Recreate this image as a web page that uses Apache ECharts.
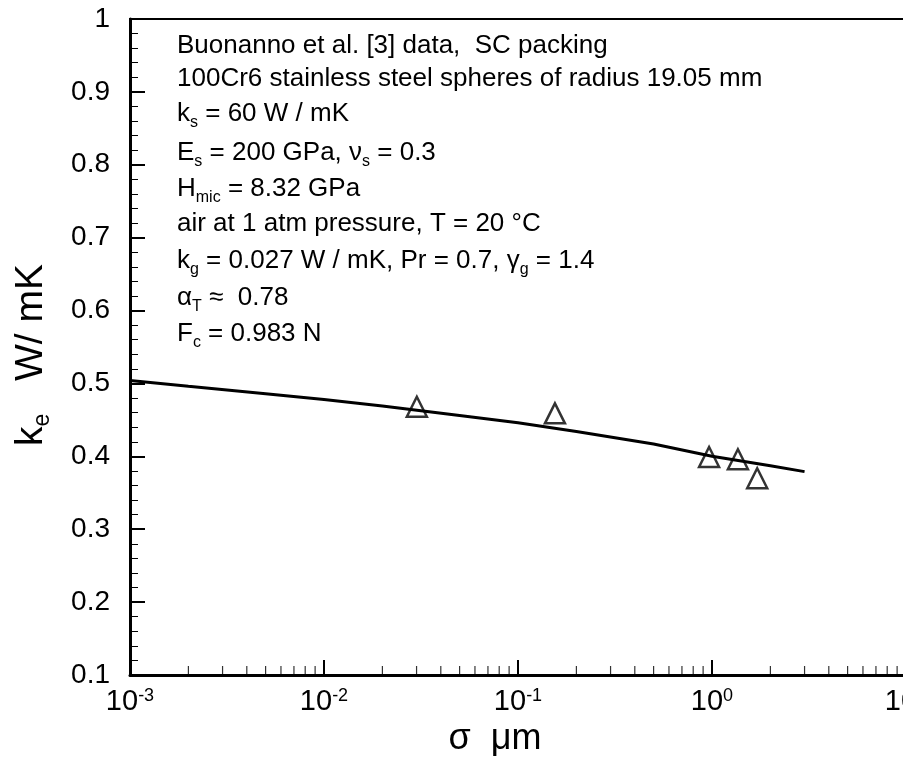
<!DOCTYPE html>
<html>
<head>
<meta charset="utf-8">
<script src="https://cdn.jsdelivr.net/npm/echarts@6/dist/echarts.min.js"></script>
<style>
  html, body { margin: 0; padding: 0; background: #fff; }
  #chart { width: 903px; height: 758px; }
</style>
</head>
<body>
<div id="chart"></div>
<script>
// ---- data ----
const curveX = [0.001, 0.002, 0.005, 0.01, 0.02, 0.05, 0.1, 0.2, 0.5, 1, 2, 3];
const curveY = [0.504, 0.496, 0.486, 0.478, 0.469, 0.456, 0.446, 0.434, 0.417, 0.400, 0.387, 0.379];
const dataX = [0.0301, 0.155, 0.966, 1.36, 1.71];
const dataY = [0.468, 0.459, 0.399, 0.396, 0.370];
const xMinorTicks = [0.002, 0.003, 0.004, 0.005, 0.006, 0.007, 0.008, 0.009,
                     0.02, 0.03, 0.04, 0.05, 0.06, 0.07, 0.08, 0.09,
                     0.2, 0.3, 0.4, 0.5, 0.6, 0.7, 0.8, 0.9,
                     2, 3, 4, 5, 6, 7, 8, 9];
const textLines = [
  'Buonanno et al. [3] data,  SC packing',
  '100Cr6 stainless steel spheres of radius 19.05 mm',
  'k{sub|s} = 60 W / mK',
  'E{sub|s} = 200 GPa, \u03bd{sub|s} = 0.3',
  'H{sub|mic} = 8.32 GPa',
  'air at 1 atm pressure, T = 20 \u00b0C',
  'k{sub|g} = 0.027 W / mK, Pr = 0.7, \u03b3{sub|g} = 1.4',
  '\u03b1{sub|T} \u2248  0.78',
  'F{sub|c} = 0.983 N'
];
const xTitle = '\u03c3  \u03bcm';
const yTitle = 'k{sub|e}   W/ mK';

// ---- layout ----
const FONT = 'Liberation Sans, Arial, Helvetica, sans-serif';
const lineBaselines = [55, 88, 123, 162, 198, 233, 270, 307, 343];

const chart = echarts.init(document.getElementById('chart'), null, { renderer: 'canvas' });

const curveData = curveX.map((x, i) => [x, curveY[i]]);
const pointData = dataX.map((x, i) => [x, dataY[i]]);
const minorData = xMinorTicks.map(x => [x, 0.1]);

const graphics = textLines.map((t, i) => ({
  type: 'text',
  x: 177,
  y: lineBaselines[i] - 9,
  silent: true,
  style: {
    text: t,
    fill: '#000',
    fontSize: 26,
    fontFamily: FONT,
    lineHeight: 34,
    align: 'left',
    verticalAlign: 'middle',
    rich: {
      sub: { fontSize: 16, fontFamily: FONT, fill: '#000', lineHeight: 16, verticalAlign: 'bottom' }
    }
  }
}));
graphics.push({
  type: 'text', x: 495, y: 739, silent: true,
  style: { text: xTitle, fill: '#000', fontSize: 36, fontFamily: FONT, align: 'center', verticalAlign: 'middle' }
});
graphics.push({
  type: 'text', x: 31, y: 355, rotation: Math.PI / 2, silent: true,
  style: {
    text: yTitle, fill: '#000', fontSize: 39, fontFamily: FONT, lineHeight: 46,
    align: 'center', verticalAlign: 'middle',
    rich: { sub: { fontSize: 23, fontFamily: FONT, fill: '#000', lineHeight: 23, verticalAlign: 'bottom' } }
  }
});

const option = {
  backgroundColor: '#fff',
  animation: false,
  grid: {
    left: 130, right: -3, top: 19, bottom: 83,
    outerBoundsMode: 'none', containLabel: false,
    show: true, borderColor: '#000', borderWidth: 2, backgroundColor: 'transparent'
  },
  xAxis: {
    type: 'log', logBase: 10, min: 0.001, max: 10,
    axisLine: { lineStyle: { color: '#000', width: 3 } },
    axisTick: { inside: true, length: 15, lineStyle: { color: '#000', width: 2 } },
    minorTick: { show: false },
    splitLine: { show: false },
    axisLabel: {
      margin: 12,
      color: '#000',
      hideOverlap: false,
      formatter: v => '{b|10}{s|' + Math.round(Math.log10(v)) + '}',
      rich: {
        b: { fontSize: 29, fontFamily: FONT, color: '#000', lineHeight: 30 },
        s: { fontSize: 18, fontFamily: FONT, color: '#000', lineHeight: 18, verticalAlign: 'top' }
      }
    }
  },
  yAxis: {
    type: 'value', min: 0.1, max: 1, interval: 0.1,
    axisLine: { show: true, lineStyle: { color: '#000', width: 3 } },
    axisTick: { show: true, inside: true, length: 15, lineStyle: { color: '#000', width: 2 } },
    minorTick: { show: true, splitNumber: 5, length: 8, lineStyle: { color: '#000', width: 1 } },
    splitLine: { show: false },
    axisLabel: { margin: 20, color: '#000', fontSize: 28, fontFamily: FONT }
  },
  graphic: graphics,
  series: [
    {
      type: 'line', data: curveData, showSymbol: false, symbol: 'none',
      lineStyle: { color: '#000', width: 3 }, z: 3, silent: true
    },
    {
      type: 'scatter', data: pointData, symbol: 'triangle', symbolSize: 20,
      itemStyle: { color: 'rgba(0,0,0,0)', borderColor: '#000', borderWidth: 2.5 }, z: 4, silent: true
    },
    {
      type: 'scatter', data: minorData, symbol: 'rect', symbolSize: [1.2, 8], symbolOffset: [0, -5],
      itemStyle: { color: '#000' }, clip: false, z: 5, silent: true
    }
  ]
};
chart.setOption(option);
</script>
</body>
</html>
